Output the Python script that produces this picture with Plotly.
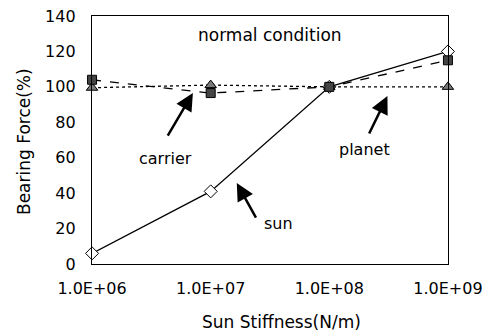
import plotly.graph_objects as go

stiffness = [1e6, 1e7, 1e8, 1e9]
tick_labels = ["1.0E+06", "1.0E+07", "1.0E+08", "1.0E+09"]
y_ticks = [0, 20, 40, 60, 80, 100, 120, 140]
sun = [6, 41, 100, 120]
carrier = [104, 96.5, 100, 115]
planet = [99.5, 101, 100, 100]

FONT = "DejaVu Sans, sans-serif"

fig = go.Figure()
fig.add_trace(go.Scatter(x=stiffness, y=sun, mode="lines+markers", name="sun",
                         cliponaxis=False,
                         line=dict(color="black", width=1.3),
                         marker=dict(symbol="diamond", size=10, color="white",
                                     line=dict(color="black", width=1))))
fig.add_trace(go.Scatter(x=stiffness, y=planet, mode="lines+markers", name="planet",
                         cliponaxis=False,
                         line=dict(color="black", width=1.3, dash="dot"),
                         marker=dict(symbol="triangle-up", size=10, color="#7a7a7a",
                                     line=dict(color="black", width=1))))
fig.add_trace(go.Scatter(x=stiffness, y=carrier, mode="lines+markers", name="carrier",
                         cliponaxis=False,
                         line=dict(color="black", width=1.3, dash="dash"),
                         marker=dict(symbol="square", size=9, color="#444444",
                                     line=dict(color="black", width=1))))

ann = []
def text(x, y, s, size=16):
    ann.append(dict(x=x, y=y, xref="x", yref="y", text=s, showarrow=False,
                    font=dict(family=FONT, size=size, color="black")))
def arrow(x, y, ax, ay):
    ann.append(dict(x=x, y=y, xref="x", yref="y", text="", showarrow=True,
                    ax=ax, ay=ay, arrowhead=2, arrowsize=1.4, arrowwidth=2.5,
                    arrowcolor="black"))

text(7.5, 129.3, "normal condition", 17)
text(6.615, 59.8, "carrier")
text(8.30, 64.4, "planet")
text(7.57, 23, "sun")
arrow(6.85, 96.5, -26, 44)
arrow(8.49, 94.8, -19, 39)
arrow(7.22, 45.7, 20, 36)

# axis titles
ann.append(dict(x=(281 - 92) / 356, y=(264 - 322) / 248, xref="paper", yref="paper",
                xanchor="center", yanchor="middle",
                text="Sun Stiffness(N/m)", showarrow=False,
                font=dict(family=FONT, size=17, color="black")))
ann.append(dict(x=(24 - 92) / 356, y=(264 - 142) / 248, xref="paper", yref="paper",
                xanchor="center", yanchor="middle",
                text="Bearing Force(%)", showarrow=False, textangle=-90,
                font=dict(family=FONT, size=17, color="black")))

fig.update_layout(
    width=488, height=336,
    margin=dict(l=92, r=40, t=16, b=72),
    paper_bgcolor="white", plot_bgcolor="white",
    showlegend=False,
    font=dict(family=FONT, size=16, color="black"),
    annotations=ann,
    xaxis=dict(type="log", range=[5.9995, 9.0005], tickvals=stiffness, ticktext=tick_labels,
               showgrid=False, zeroline=False, showline=True, linecolor="black",
               linewidth=1.4, mirror=True, ticks="", ticklabelstandoff=10,
               automargin=False),
    yaxis=dict(range=[0, 140], tickvals=y_ticks,
               showgrid=False, zeroline=False, showline=True, linecolor="black",
               linewidth=1.4, mirror=True, ticks="", ticklabelstandoff=12,
               automargin=False),
)

fig.write_html("out.html")
